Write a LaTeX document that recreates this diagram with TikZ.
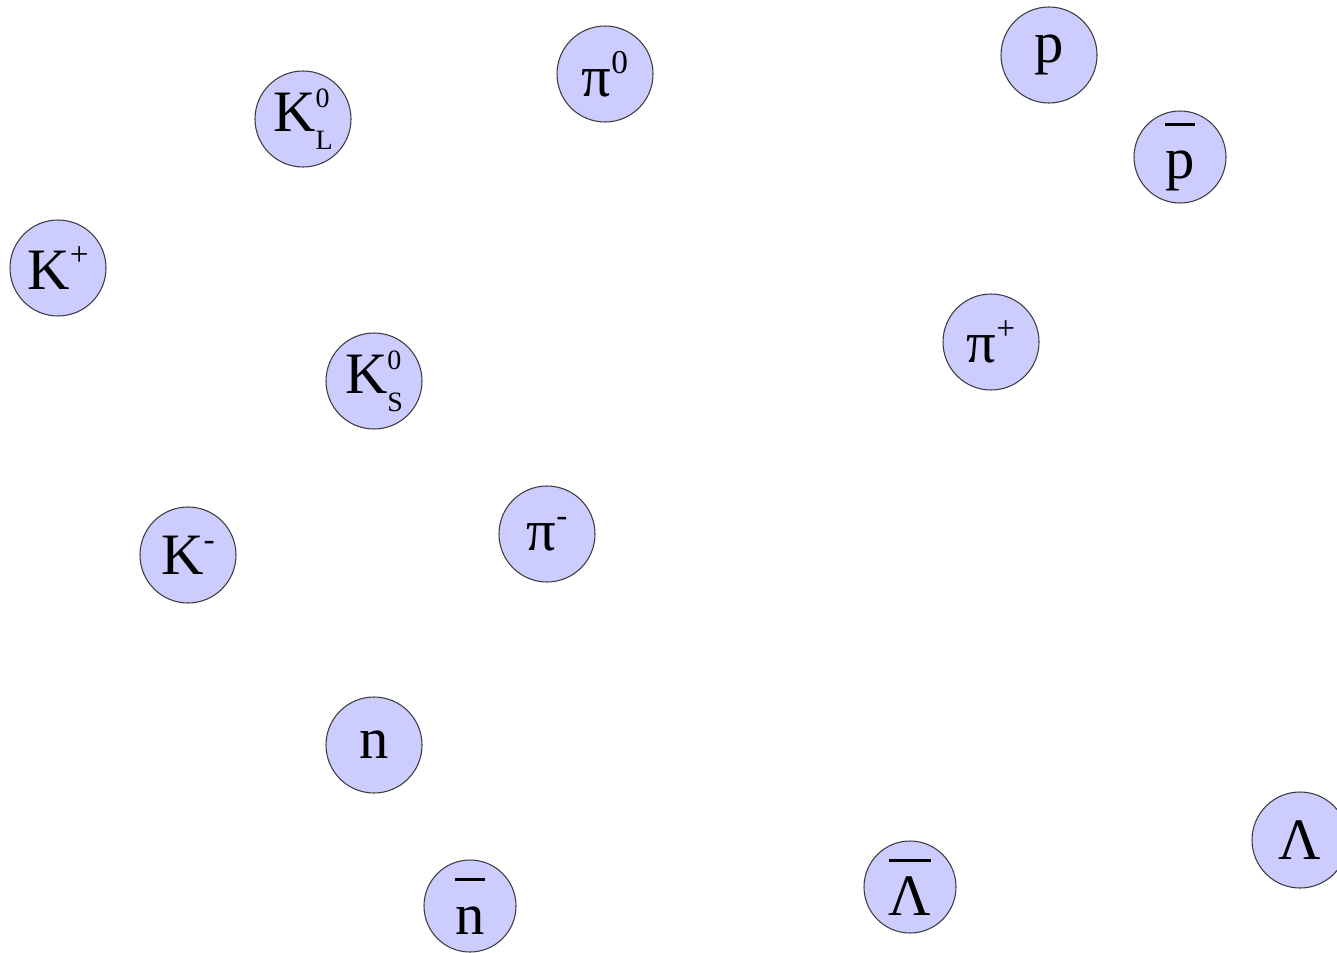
\documentclass[tikz,border=0pt]{standalone}
\usepackage{fontspec}
\setmainfont{Liberation Serif}
\usepackage{tikz}
\definecolor{Lavender}{RGB}{204,204,255}
\definecolor{RimGray}{RGB}{60,60,60}

\newcommand{\supscr}{\fontsize{25}{26}\selectfont}
\newcommand{\stackscr}{\fontsize{21}{22}\selectfont}
\newcommand{\supr}[1]{\raisebox{0.4em}{\supscr #1}}
\newcommand{\supsub}[2]{\makebox[0pt][l]{\raisebox{0.42em}{\stackscr #1}}\raisebox{-0.3em}{\stackscr #2}}
\newcommand{\barred}[1]{\setbox0\hbox{#1}\rlap{\raisebox{0.9em}{\rule{\wd0}{0.055em}}}\box0}

\begin{document}
\begin{tikzpicture}[x=0.75pt, y=-0.75pt,
		particle/.style={circle, draw=RimGray, line width=0.8pt, fill=Lavender,
			minimum size=72pt, inner sep=0pt, font=\fontsize{44}{48}\selectfont}]
		\useasboundingbox (0,0) rectangle (1337,952);
		
		% kaonen
		\node[particle] (KL) at (303,119) {K\supsub{0}{L}};
		\node[particle] (Kp) at (58,268) {K\supr{+}};
		\node[particle] (KS) at (374,381) {K\supsub{0}{S}};
		\node[particle] (Km) at (188,555) {K\supr{-}};
		
		% pionen
		\node[particle] (pi0) at (605,74) {π\supr{0}};
		\node[particle] (pip) at (991,342) {π\supr{+}};
		\node[particle] (pim) at (547,534) {π\supr{-}};
		
		% baryonen
		\node[particle] (p) at (1049,55) {p};
		\node[particle, minimum size=69pt] (pbar) at (1180,157) {\barred{p}};
		\node[particle] (n) at (374,745) {n};
		\node[particle, minimum size=69pt] (nbar) at (470,906) {\barred{n}};
		\node[particle, minimum size=69pt] (Lbar) at (910,887) {\barred{Λ}};
		\node[particle] (L) at (1300,840) {Λ};
	\end{tikzpicture}
\end{document}
